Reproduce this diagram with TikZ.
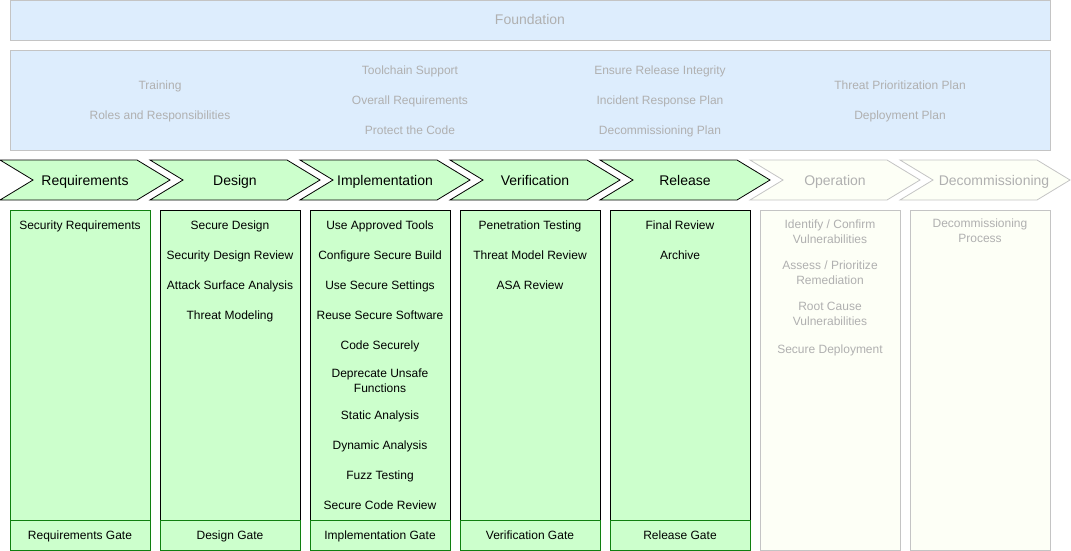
\documentclass[tikz,border=0pt]{standalone}
\usepackage{fontspec}
\setmainfont{Liberation Sans}
\definecolor{gfill}{HTML}{CCFFCC}
\definecolor{gline}{HTML}{107F10}
\definecolor{bfill}{HTML}{DDEDFD}
\definecolor{bline}{HTML}{C4C4C4}
\definecolor{gtext}{HTML}{B0B0B0}
\definecolor{yfill}{HTML}{FDFFF6}
\definecolor{yline}{HTML}{C4C4C4}
\tikzset{
  item/.style={font=\fontsize{12}{15}\selectfont, align=center, text=black, inner sep=0pt, text height=8.6pt, text depth=2.5pt, yshift=-1pt},
  mitem/.style={font=\fontsize{12}{15}\selectfont, align=center, text=black, inner sep=0pt, yshift=-1pt},
  gitem/.style={mitem, text=gtext},
  btext/.style={item, text=gtext},
  chevtext/.style={font=\fontsize{14}{16}\selectfont, inner sep=0pt, text height=10pt, text depth=3pt, yshift=-2pt},
  greenchev/.style={fill=gfill, draw=black, line width=0.8pt},
  graychev/.style={fill=yfill, draw=yline, line width=0.8pt},
  colbox/.style={draw=black, fill=gfill, line width=0.8pt},
  gatebox/.style={draw=gline, fill=gfill, line width=0.8pt},
  graybox/.style={draw=yline, fill=yfill, line width=0.8pt},
  bluebox/.style={draw=bline, fill=bfill, line width=0.8pt},
}
\begin{document}
\begin{tikzpicture}[x=1pt,y=-1pt]
\useasboundingbox (0,0) rectangle (1071,551);
% Foundation
\draw[bluebox] (10,0.5) rectangle (1050,40);
\node[chevtext, text=gtext] (found) at (530,19) {Foundation};
\draw[bluebox] (10,50) rectangle (1050,150);
\node[btext] (f1) at (160,85) {Training};
\node[btext] (f2) at (160,115) {Roles and Responsibilities};
\node[btext] (f3) at (410,70) {Toolchain Support};
\node[btext] (f4) at (410,100) {Overall Requirements};
\node[btext] (f5) at (410,130) {Protect the Code};
\node[btext] (f6) at (660,70) {Ensure Release Integrity};
\node[btext] (f7) at (660,100) {Incident Response Plan};
\node[btext] (f8) at (660,130) {Decommissioning Plan};
\node[btext] (f9) at (900,85) {Threat Prioritization Plan};
\node[btext] (f10) at (900,115) {Deployment Plan};
% Chevrons
\foreach \i/\s in {0/greenchev,1/greenchev,2/greenchev,3/greenchev,4/greenchev,5/graychev,6/graychev}{
  \pgfmathsetmacro{\xx}{150*\i}
  \draw[\s] (\xx,160) -- (\xx+137,160) -- (\xx+170,180) -- (\xx+137,200) -- (\xx,200) -- (\xx+33,180) -- cycle;
}
\node[chevtext] (c1) at (85,180) {Requirements};
\node[chevtext] (c2) at (235,180) {Design};
\node[chevtext] (c3) at (385,180) {Implementation};
\node[chevtext] (c4) at (535,180) {Verification};
\node[chevtext] (c5) at (685,180) {Release};
\node[chevtext, text=gtext] (c6) at (835,180) {Operation};
\node[chevtext, text=gtext] (c7) at (994,180) {Decommissioning};
% Columns
\draw[gatebox] (10,210) rectangle (150,520);
\draw[colbox] (160,210) rectangle (300,520);
\draw[colbox] (310,210) rectangle (450,520);
\draw[colbox] (460,210) rectangle (600,520);
\draw[colbox] (610,210) rectangle (750,520);
\draw[gatebox] (10,520) rectangle (150,550);
\draw[gatebox] (160,520) rectangle (300,550);
\draw[gatebox] (310,520) rectangle (450,550);
\draw[gatebox] (460,520) rectangle (600,550);
\draw[gatebox] (610,520) rectangle (750,550);
\draw[graybox] (760,210) rectangle (900,550);
\draw[graybox] (910,210) rectangle (1050,550);
% Requirements
\node[item] (r1) at (80,225) {Security Requirements};
\node[item] (rg) at (80,535) {Requirements Gate};
% Design
\node[item] (d1) at (230,225) {Secure Design};
\node[item] (d2) at (230,255) {Security Design Review};
\node[item] (d3) at (230,285) {Attack Surface Analysis};
\node[item] (d4) at (230,315) {Threat Modeling};
\node[item] (dg) at (230,535) {Design Gate};
% Implementation
\node[item] (i1) at (380,225) {Use Approved Tools};
\node[item] (i2) at (380,255) {Configure Secure Build};
\node[item] (i3) at (380,285) {Use Secure Settings};
\node[item] (i4) at (380,315) {Reuse Secure Software};
\node[item] (i5) at (380,345) {Code Securely};
\node[mitem] (i6) at (380,380) {Deprecate Unsafe\\Functions};
\node[item] (i7) at (380,415) {Static Analysis};
\node[item] (i8) at (380,445) {Dynamic Analysis};
\node[item] (i9) at (380,475) {Fuzz Testing};
\node[item] (i10) at (380,505) {Secure Code Review};
\node[item] (ig) at (380,535) {Implementation Gate};
% Verification
\node[item] (v1) at (530,225) {Penetration Testing};
\node[item] (v2) at (530,255) {Threat Model Review};
\node[item] (v3) at (530,285) {ASA Review};
\node[item] (vg) at (530,535) {Verification Gate};
% Release
\node[item] (rl1) at (680,225) {Final Review};
\node[item] (rl2) at (680,255) {Archive};
\node[item] (rlg) at (680,535) {Release Gate};
% Operation
\node[gitem] (o1) at (830,231) {Identify / Confirm\\Vulnerabilities};
\node[gitem] (o2) at (830,272) {Assess / Prioritize\\Remediation};
\node[gitem] (o3) at (830,313) {Root Cause\\Vulnerabilities};
\node[item, text=gtext] (o4) at (830,349) {Secure Deployment};
% Decommissioning
\node[gitem] (dc1) at (980,230) {Decommissioning\\Process};
\end{tikzpicture}
\end{document}
